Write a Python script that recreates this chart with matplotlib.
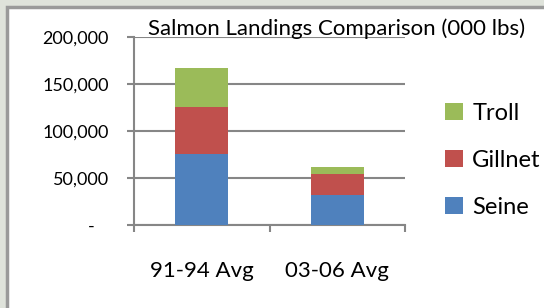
import matplotlib.pyplot as plt
from matplotlib.patches import Rectangle

plt.rcParams['font.family'] = ['Lato', 'DejaVu Sans']

categories = ['91-94 Avg', '03-06 Avg']
seine = [75400, 32100]
gillnet = [50300, 22500]
troll = [41100, 7500]
y_ticks = [0, 50000, 100000, 150000, 200000]
y_labels = ['-   ', '50,000', '100,000', '150,000', '200,000']

fig = plt.figure(figsize=(5.44, 3.08), dpi=100)
fig.patch.set_facecolor('#dfe3db')
# white chart area with gray inner border
fig.patches.append(Rectangle((7 / 544, -0.1), 1.2, 1 - 7 / 308 + 0.1,
                             transform=fig.transFigure, facecolor='white',
                             edgecolor='#9a9a9a', linewidth=2.5, zorder=-10))

ax = fig.add_axes([134 / 544, 1 - 225 / 308, 271 / 544, 188 / 308])
x = range(len(categories))
w = 0.39
b1 = ax.bar(x, seine, w, color='#4f81bd', label='Seine', zorder=3)
b2 = ax.bar(x, gillnet, w, bottom=seine, color='#c0504d', label='Gillnet', zorder=3)
bottom2 = [s + g for s, g in zip(seine, gillnet)]
b3 = ax.bar(x, troll, w, bottom=bottom2, color='#9bbb59', label='Troll', zorder=3)

ax.set_xlim(-0.5, 1.5)
ax.set_ylim(0, 200000)
ax.set_yticks(y_ticks)
ax.set_yticklabels(y_labels)
ax.set_xticks(list(x))
ax.set_xticklabels(categories, fontsize=16)
ax.set_xticks([-0.5, 0.5, 1.5], minor=True)
ax.tick_params(axis='x', which='major', length=0, pad=26)
ax.tick_params(axis='x', which='minor', length=5, width=1.5, color='#868686', direction='out')
ax.tick_params(axis='y', length=5, width=1.5, color='#868686', pad=13, labelsize=13)
ax.grid(axis='y', color='#868686', linewidth=1.5, zorder=1)
for s in ['top', 'right']:
    ax.spines[s].set_visible(False)
for s in ['left', 'bottom']:
    ax.spines[s].set_color('#868686')
    ax.spines[s].set_linewidth(1.5)
ax.set_facecolor('none')

fig.text(148 / 544, 1 - 29 / 308, 'Salmon Landings Comparison (000 lbs)',
         fontsize=16, va='center', ha='left')

ax.legend(handles=[b3, b2, b1], loc='center left', bbox_to_anchor=(1.07, 0.345),
          frameon=False, fontsize=17, handlelength=0.75, handleheight=0.75,
          labelspacing=1.1, handletextpad=0.4)

fig.savefig('out.png', dpi=100, facecolor=fig.get_facecolor())
